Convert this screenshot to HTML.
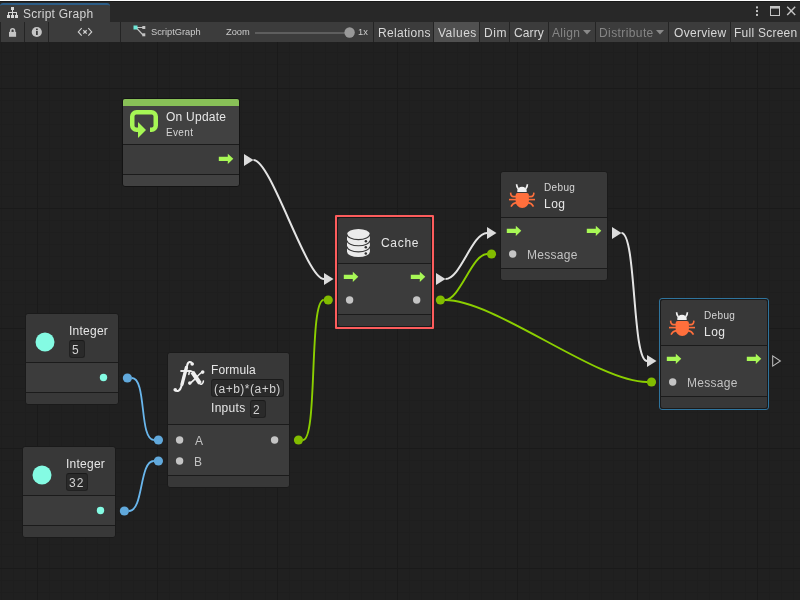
<!DOCTYPE html>
<html><head><meta charset="utf-8"><title>Script Graph</title>
<style>
html,body{margin:0;padding:0}
body{width:800px;height:600px;overflow:hidden;background:#202020;position:relative;font-family:"Liberation Sans",sans-serif;}
.t{position:absolute;white-space:nowrap;will-change:transform;}
.abs{position:absolute}
#grid{position:absolute;left:0;top:42px;width:800px;height:558px;background-color:#202020;
 background-image:
  linear-gradient(to right,#1a1a1a 1px,transparent 1px),
  linear-gradient(to bottom,#1a1a1a 1px,transparent 1px),
  linear-gradient(to right,#1e1e1e 1px,transparent 1px),
  linear-gradient(to bottom,#1e1e1e 1px,transparent 1px);
 background-size:120px 120px,120px 120px,12px 12px,12px 12px;
 background-position:37px 0,0 46px,1px 0,0 10px;}
#topbar{position:absolute;left:0;top:0;width:800px;height:22px;background:#282828}
#topline{position:absolute;left:0;top:0;width:800px;height:1px;background:#fdfdfd}
#topline2{position:absolute;left:0;top:1px;width:800px;height:1px;background:#191919}
#tab{position:absolute;left:0;top:3px;width:110px;height:19px;background:#3c3c3c;border-top:2px solid #2c5d87;box-sizing:border-box;border-radius:3px 3px 0 0}
#toolbar{position:absolute;left:0;top:22px;width:800px;height:20px;background:#3c3c3c}
.tsep{position:absolute;top:22px;width:1px;height:20px;background:#242424}
.node{position:absolute;box-sizing:border-box;border:1px solid #1a1a1a;border-radius:3px;background:#383838}
.node.ev{background:#414141;border-color:#131313}
.ports{position:absolute;left:0;right:0;background:#3c3c3c}
.sep{position:absolute;left:0;right:0;height:1px;background:#1b1b1b}
.a{position:absolute;overflow:visible}
.d{position:absolute;border-radius:50%}
.field{position:absolute;box-sizing:border-box;background:#2a2a2a;border:1px solid #212121;border-top-color:#1a1a1a;border-radius:3px;height:18px}
svg{display:block}
</style></head><body>

<div id="grid"></div>
<svg class="abs" style="left:0;top:0" width="800" height="600" viewBox="0 0 800 600">
<path d="M253.5,160.0 C271.1,160.0 306.4,279.0 324.0,279.0" fill="none" stroke="#e4e4e4" stroke-width="2.0"/>
<path d="M445.5,279.0 C460.5,279.0 472.0,233.0 487.0,233.0" fill="none" stroke="#e4e4e4" stroke-width="2.0"/>
<path d="M621.5,233.0 C636.5,233.0 632.0,361.0 647.0,361.0" fill="none" stroke="#e4e4e4" stroke-width="2.0"/>
<path d="M303.0,440.0 C318.0,440.0 308.7,300.0 323.7,300.0" fill="none" stroke="#8bcf00" stroke-width="1.9"/>
<path d="M444.9,300.0 C459.9,300.0 472.0,254.0 487.0,254.0" fill="none" stroke="#8bcf00" stroke-width="1.9"/>
<path d="M444.9,300.0 C495.4,300.0 596.5,382.0 647.0,382.0" fill="none" stroke="#8bcf00" stroke-width="1.9"/>
<path d="M131.9,378.0 C146.9,378.0 138.9,440.0 153.9,440.0" fill="none" stroke="#69b6ec" stroke-width="1.8"/>
<path d="M128.9,511.0 C143.9,511.0 138.9,461.0 153.9,461.0" fill="none" stroke="#69b6ec" stroke-width="1.8"/>
<path d="M244,154 L253.5,160 L244,166 Z" fill="#dcdcdc"/>
<path d="M324,273 L333.5,279 L324,285 Z" fill="#dcdcdc"/>
<path d="M436,273 L445.5,279 L436,285 Z" fill="#dcdcdc"/>
<path d="M487,227 L496.5,233 L487,239 Z" fill="#dcdcdc"/>
<path d="M612,227 L621.5,233 L612,239 Z" fill="#dcdcdc"/>
<path d="M647,355 L656.5,361 L647,367 Z" fill="#dcdcdc"/>
<path d="M772.7,355.9 L780.4,361 L772.7,366.1 Z" fill="none" stroke="#bdbdbd" stroke-width="1.05"/>
<circle cx="298.5" cy="440" r="4.6" fill="#82bc00"/>
<circle cx="328.2" cy="300" r="4.6" fill="#82bc00"/>
<circle cx="440.4" cy="300" r="4.6" fill="#82bc00"/>
<circle cx="491.5" cy="254" r="4.6" fill="#82bc00"/>
<circle cx="651.5" cy="382" r="4.6" fill="#82bc00"/>
<circle cx="127.4" cy="378" r="4.6" fill="#61a9dc"/>
<circle cx="158.4" cy="440" r="4.6" fill="#61a9dc"/>
<circle cx="124.4" cy="511" r="4.6" fill="#61a9dc"/>
<circle cx="158.4" cy="461" r="4.6" fill="#61a9dc"/>
</svg>
<div class="node ev" style="left:122px;top:98px;width:118px;height:89px"><div class="ports" style="top:46px;height:29px"></div><div class="sep" style="top:45px"></div><div class="sep" style="top:75px"></div><div class="abs" style="left:0;top:0;width:116px;height:7px;background:#88c057;border-radius:2px 2px 0 0"></div></div>
<svg class="abs" style="left:130px;top:110px" width="28" height="28" viewBox="0 0 28 28">
<path d="M20,22 H21.5 A6.5,6.5 0 0 0 28,15.5 V6.5 A6.5,6.5 0 0 0 21.5,0 H6.5 A6.5,6.5 0 0 0 0,6.5 V15.5 A6.5,6.5 0 0 0 6.5,22 H8.5 V17.5 H6.2 A1.7,1.7 0 0 1 4.5,15.8 V6.2 A1.7,1.7 0 0 1 6.2,4.5 H21.8 A1.7,1.7 0 0 1 23.5,6.2 V15.8 A1.7,1.7 0 0 1 21.8,17.5 H20 Z" fill="#a6f655"/>
<path d="M8,12 L16,20 L8,28 Z" fill="#a6f655"/></svg>
<span class="t" style="left:165.7px;top:108px;font-size:12px;line-height:18px;color:#e6e6e6;letter-spacing:0.25px;">On Update</span>
<span class="t" style="left:166px;top:125px;font-size:10px;line-height:15px;color:#d6d6d6;letter-spacing:0.35px;">Event</span>
<svg class="a" style="left:219px;top:154px" width="15" height="11" viewBox="0 0 15 11"><path d="M-0.2,2.8 H8.8 V-0.2 L14.3,4.85 L8.8,9.9 V6.9 H-0.2 Z" fill="#a8f856"/></svg>
<div class="abs" style="left:335px;top:215px;width:99px;height:114px;box-sizing:border-box;border:2px solid #fd5c5c;border-radius:1px"></div>
<div class="node " style="left:337px;top:217px;width:95px;height:110px"><div class="ports" style="top:46px;height:50px"></div><div class="sep" style="top:45px"></div><div class="sep" style="top:96px"></div></div>
<svg class="abs" style="left:347px;top:229px" width="24" height="28" viewBox="0 0 24 28">
<path d="M0,5.3 A11.45,5.3 0 0 1 22.9,5.3 V22.7 A11.45,5.3 0 0 1 0,22.7 Z" fill="#ebebeb"/>
<g fill="none" stroke="#383838" stroke-width="1.15">
<path d="M0,5.3 A11.45,5.3 0 0 0 22.9,5.3"/><path d="M0,11.4 A11.45,5.3 0 0 0 22.9,11.4"/><path d="M0,17.5 A11.45,5.3 0 0 0 22.9,17.5"/></g>
<g fill="#2e2e2e"><circle cx="18.9" cy="12.2" r="1.25"/><circle cx="18.8" cy="18.3" r="1.25"/><circle cx="18.8" cy="24.4" r="1.25"/></g></svg>
<span class="t" style="left:381.2px;top:234px;font-size:12px;line-height:18px;color:#e6e6e6;letter-spacing:0.7px;">Cache</span>
<svg class="a" style="left:344px;top:272px" width="15" height="11" viewBox="0 0 15 11"><path d="M-0.2,2.8 H8.8 V-0.2 L14.3,4.85 L8.8,9.9 V6.9 H-0.2 Z" fill="#a8f856"/></svg>
<svg class="a" style="left:411px;top:272px" width="15" height="11" viewBox="0 0 15 11"><path d="M-0.2,2.8 H8.8 V-0.2 L14.3,4.85 L8.8,9.9 V6.9 H-0.2 Z" fill="#a8f856"/></svg>
<svg class="a" style="left:344px;top:295px" width="11" height="11"><circle cx="5.60" cy="5.00" r="3.7" fill="#c4c4c4"/></svg>
<svg class="a" style="left:411px;top:295px" width="11" height="11"><circle cx="5.70" cy="5.00" r="3.7" fill="#c4c4c4"/></svg>
<div class="node " style="left:500px;top:171px;width:108px;height:110px"><div class="ports" style="top:46px;height:50px"></div><div class="sep" style="top:45px"></div><div class="sep" style="top:96px"></div></div>
<svg class="abs" style="left:509px;top:184px" width="26" height="24" viewBox="0 0 26 24">
<path d="M8.3,8 V6.8 A4.7,4 0 0 1 17.7,6.8 V8 Z" fill="#f0f0f0"/>
<path d="M9.3,5 Q7.6,3 7.6,0.3 M16.7,5 Q18.4,3 18.4,0.3" fill="none" stroke="#f0f0f0" stroke-width="1.7"/>
<path d="M6.6,11 Q6.6,9 8.6,9 H17.9 Q19.9,9 19.9,11 V17 A6.65,7 0 0 1 6.6,17 Z" fill="#ff6f3c"/>
<g fill="none" stroke="#ff6f3c" stroke-width="1.6">
<path d="M0,15.6 H26"/>
<path d="M7,12.6 H4.5 Q1.8,12.6 1.6,8.6 M19.5,12.6 H22 Q24.7,12.6 24.9,8.6"/>
<path d="M7.5,18.6 Q3.8,19 2,22.6 M19,18.6 Q22.7,19 24.5,22.6"/></g></svg>
<span class="t" style="left:543.5px;top:180px;font-size:10px;line-height:15px;color:#d6d6d6;letter-spacing:0.35px;">Debug</span>
<span class="t" style="left:544.4px;top:195px;font-size:12px;line-height:18px;color:#e6e6e6;letter-spacing:0.5px;">Log</span>
<svg class="a" style="left:507px;top:226px" width="15" height="11" viewBox="0 0 15 11"><path d="M-0.2,2.8 H8.8 V-0.2 L14.3,4.85 L8.8,9.9 V6.9 H-0.2 Z" fill="#a8f856"/></svg>
<svg class="a" style="left:587px;top:226px" width="15" height="11" viewBox="0 0 15 11"><path d="M-0.2,2.8 H8.8 V-0.2 L14.3,4.85 L8.8,9.9 V6.9 H-0.2 Z" fill="#a8f856"/></svg>
<svg class="a" style="left:507px;top:249px" width="11" height="11"><circle cx="5.70" cy="5.00" r="3.7" fill="#c4c4c4"/></svg>
<span class="t" style="left:526.7px;top:246px;font-size:12px;line-height:18px;color:#c2c2c2;letter-spacing:0.3px;">Message</span>
<div class="abs" style="left:659px;top:298px;width:110px;height:112px;box-sizing:border-box;border:1px solid #2f749d;border-radius:3px"></div>
<div class="node " style="left:660px;top:299px;width:108px;height:110px"><div class="ports" style="top:46px;height:50px"></div><div class="sep" style="top:45px"></div><div class="sep" style="top:96px"></div></div>
<svg class="abs" style="left:669px;top:312px" width="26" height="24" viewBox="0 0 26 24">
<path d="M8.3,8 V6.8 A4.7,4 0 0 1 17.7,6.8 V8 Z" fill="#f0f0f0"/>
<path d="M9.3,5 Q7.6,3 7.6,0.3 M16.7,5 Q18.4,3 18.4,0.3" fill="none" stroke="#f0f0f0" stroke-width="1.7"/>
<path d="M6.6,11 Q6.6,9 8.6,9 H17.9 Q19.9,9 19.9,11 V17 A6.65,7 0 0 1 6.6,17 Z" fill="#ff6f3c"/>
<g fill="none" stroke="#ff6f3c" stroke-width="1.6">
<path d="M0,15.6 H26"/>
<path d="M7,12.6 H4.5 Q1.8,12.6 1.6,8.6 M19.5,12.6 H22 Q24.7,12.6 24.9,8.6"/>
<path d="M7.5,18.6 Q3.8,19 2,22.6 M19,18.6 Q22.7,19 24.5,22.6"/></g></svg>
<span class="t" style="left:703.5px;top:308px;font-size:10px;line-height:15px;color:#d6d6d6;letter-spacing:0.35px;">Debug</span>
<span class="t" style="left:704.4px;top:323px;font-size:12px;line-height:18px;color:#e6e6e6;letter-spacing:0.5px;">Log</span>
<svg class="a" style="left:667px;top:354px" width="15" height="11" viewBox="0 0 15 11"><path d="M-0.2,2.8 H8.8 V-0.2 L14.3,4.85 L8.8,9.9 V6.9 H-0.2 Z" fill="#a8f856"/></svg>
<svg class="a" style="left:747px;top:354px" width="15" height="11" viewBox="0 0 15 11"><path d="M-0.2,2.8 H8.8 V-0.2 L14.3,4.85 L8.8,9.9 V6.9 H-0.2 Z" fill="#a8f856"/></svg>
<svg class="a" style="left:667px;top:377px" width="11" height="11"><circle cx="5.70" cy="5.00" r="3.7" fill="#c4c4c4"/></svg>
<span class="t" style="left:686.7px;top:374px;font-size:12px;line-height:18px;color:#c2c2c2;letter-spacing:0.3px;">Message</span>
<div class="node " style="left:25px;top:313px;width:94px;height:92px"><div class="ports" style="top:49px;height:29px"></div><div class="sep" style="top:48px"></div><div class="sep" style="top:78px"></div></div>
<svg class="a" style="left:34px;top:331px" width="23" height="23"><circle cx="11.00" cy="11.00" r="9.5" fill="#84fbe3"/></svg>
<span class="t" style="left:68.6px;top:322px;font-size:12px;line-height:18px;color:#e6e6e6;letter-spacing:0.25px;">Integer</span>
<div class="field" style="left:69px;top:340px;width:16px"></div>
<span class="t" style="left:71.9px;top:341px;font-size:12px;line-height:18px;color:#d2d2d2;letter-spacing:1.1px;">5</span>
<svg class="a" style="left:98px;top:372px" width="11" height="11"><circle cx="5.50" cy="5.50" r="3.7" fill="#84fbe3"/></svg>
<div class="node " style="left:22px;top:446px;width:94px;height:92px"><div class="ports" style="top:49px;height:29px"></div><div class="sep" style="top:48px"></div><div class="sep" style="top:78px"></div></div>
<svg class="a" style="left:31px;top:464px" width="23" height="23"><circle cx="11.00" cy="11.00" r="9.5" fill="#84fbe3"/></svg>
<span class="t" style="left:65.6px;top:455px;font-size:12px;line-height:18px;color:#e6e6e6;letter-spacing:0.25px;">Integer</span>
<div class="field" style="left:66px;top:473px;width:22px"></div>
<span class="t" style="left:68.9px;top:474px;font-size:12px;line-height:18px;color:#d2d2d2;letter-spacing:1.1px;">32</span>
<svg class="a" style="left:95px;top:505px" width="11" height="11"><circle cx="5.50" cy="5.50" r="3.7" fill="#84fbe3"/></svg>
<div class="node " style="left:167px;top:352px;width:123px;height:136px"><div class="ports" style="top:72px;height:50px"></div><div class="sep" style="top:71px"></div><div class="sep" style="top:122px"></div></div>
<svg class="abs" style="left:168px;top:356px" width="44" height="42" viewBox="0 0 44 42">
<g fill="none" stroke="#f0f0f0" stroke-linecap="round" stroke-linejoin="round">
<path d="M24.2,7.8 C23,5 20,5.4 19.2,9.2 L13.3,30.5 C12.3,34.4 9.5,36.2 7,34.2" stroke-width="2.1"/>
<path d="M18.4,11.5 L14,28.4" stroke-width="3.3"/>
<path d="M12.4,15 H22.8" stroke-width="1.9" stroke-linecap="butt"/>
<path d="M24.3,16 L32,27.4" stroke-width="4.2" stroke-linecap="butt"/>
<path d="M20.8,18.4 C21,15 23.4,14.2 25,16.4 M31.2,26.8 C32.8,29.4 35.2,28.2 35.4,25" stroke-width="1.6"/>
<path d="M34.9,15.8 C31.5,16.6 25.4,26.2 21.5,27.4" stroke-width="1.6"/>
</g>
<g fill="#f0f0f0"><circle cx="24.2" cy="8" r="1.8"/><circle cx="7.2" cy="33.7" r="1.8"/><circle cx="34.7" cy="16.1" r="1.8"/><circle cx="21.8" cy="27.1" r="1.8"/></g>
</svg>
<span class="t" style="left:210.6px;top:361px;font-size:12px;line-height:18px;color:#e6e6e6;letter-spacing:0.1px;">Formula</span>
<div class="field" style="left:211px;top:379px;width:73px"></div>
<span class="t" style="left:214px;top:380px;font-size:12px;line-height:18px;color:#d2d2d2;letter-spacing:0.5px;">(a+b)*(a+b)</span>
<span class="t" style="left:210.5px;top:399px;font-size:12px;line-height:18px;color:#e6e6e6;letter-spacing:0.3px;">Inputs</span>
<div class="field" style="left:250px;top:400px;width:16px"></div>
<span class="t" style="left:253px;top:401px;font-size:12px;line-height:18px;color:#d2d2d2;">2</span>
<svg class="a" style="left:174px;top:435px" width="11" height="11"><circle cx="5.60" cy="5.00" r="3.7" fill="#c4c4c4"/></svg>
<svg class="a" style="left:174px;top:456px" width="11" height="11"><circle cx="5.60" cy="5.00" r="3.7" fill="#c4c4c4"/></svg>
<svg class="a" style="left:269px;top:435px" width="11" height="11"><circle cx="5.60" cy="5.00" r="3.7" fill="#c4c4c4"/></svg>
<span class="t" style="left:194.5px;top:432px;font-size:12px;line-height:18px;color:#c2c2c2;">A</span>
<span class="t" style="left:194px;top:453px;font-size:12px;line-height:18px;color:#c2c2c2;">B</span>
<div id="topbar"></div><div id="topline"></div><div id="topline2"></div><div id="tab"></div><div id="toolbar"></div>
<svg class="abs" style="left:7px;top:7px" width="12" height="12" viewBox="0 0 12 12" shape-rendering="crispEdges">
<g fill="#d6d6d6"><rect x="4" y="0" width="3" height="3"/><rect x="5" y="3" width="1" height="6"/><rect x="1" y="5" width="9" height="1"/><rect x="1" y="5" width="1" height="3"/><rect x="9" y="5" width="1" height="3"/>
<rect x="0" y="8" width="3" height="3"/><rect x="4" y="8" width="3" height="3"/><rect x="8" y="8" width="3" height="3"/></g></svg>
<span class="t" style="left:23.3px;top:5px;font-size:12px;line-height:18px;color:#d4d4d4;letter-spacing:0.25px;">Script Graph</span>
<svg class="abs" style="left:750px;top:2px" width="50" height="20" viewBox="0 0 50 20">
<g fill="#c4c4c4"><rect x="6" y="4.4" width="2" height="2"/><rect x="6" y="8.1" width="2" height="2"/><rect x="6" y="11.9" width="2" height="2"/></g>
<rect x="20.5" y="4.5" width="9" height="9" fill="none" stroke="#c4c4c4" stroke-width="1"/><rect x="20" y="4" width="10" height="2.6" fill="#c4c4c4"/>
<path d="M37.2,4.8 L45.2,13 M45.2,4.8 L37.2,13" stroke="#c4c4c4" stroke-width="1.4" fill="none"/></svg>
<div class="tsep" style="left:0px"></div>
<div class="tsep" style="left:24px"></div>
<div class="tsep" style="left:48px"></div>
<div class="tsep" style="left:120px"></div>
<div class="tsep" style="left:373px"></div>
<div class="tsep" style="left:433px"></div>
<div class="tsep" style="left:479px"></div>
<div class="tsep" style="left:509px"></div>
<div class="tsep" style="left:548px"></div>
<div class="tsep" style="left:595px"></div>
<div class="tsep" style="left:668px"></div>
<div class="tsep" style="left:730px"></div>
<div class="abs" style="left:434px;top:22px;width:45px;height:20px;background:#505050"></div>
<svg class="abs" style="left:8px;top:26px" width="10" height="12" viewBox="0 0 10 12">
<rect x="1" y="5.9" width="7.1" height="4.9" fill="#c4c4c4"/>
<path d="M2.7,6 V4.7 A1.9,2 0 0 1 6.5,4.7 V6" fill="none" stroke="#c4c4c4" stroke-width="1.6"/></svg>
<svg class="abs" style="left:31px;top:26px" width="12" height="12" viewBox="0 0 12 12">
<circle cx="5.8" cy="6" r="5.1" fill="#c4c4c4"/><rect x="5" y="5" width="1.8" height="4" fill="#3c3c3c"/><rect x="5" y="2.6" width="1.8" height="1.6" fill="#3c3c3c"/></svg>
<svg class="abs" style="left:77px;top:26px" width="16" height="12" viewBox="0 0 16 12">
<g fill="none" stroke="#cfcfcf" stroke-width="1.15"><path d="M4.7,2.2 L1.3,5.95 L4.7,9.7"/><path d="M11.3,2.2 L14.7,5.95 L11.3,9.7"/><path d="M6.3,4.25 L9.7,7.65 M9.7,4.25 L6.3,7.65" stroke-width="1.3"/></g></svg>
<svg class="abs" style="left:133px;top:25px" width="13" height="12" viewBox="0 0 13 12">
<path d="M3,2.5 H10 M3,2.5 L10,10" stroke="#c4c4c4" stroke-width="1.1" fill="none"/>
<rect x="0.5" y="0.5" width="4" height="4" fill="#6fe8d8"/><rect x="9.3" y="1" width="3" height="3" fill="#c4c4c4"/><rect x="9.3" y="8.3" width="3" height="3" fill="#c4c4c4"/></svg>
<span class="t" style="left:151px;top:25px;font-size:9.3px;line-height:14px;color:#cccccc;">ScriptGraph</span>
<span class="t" style="left:226px;top:25px;font-size:9.3px;line-height:14px;color:#cccccc;">Zoom</span>
<div class="abs" style="left:255px;top:32px;width:95px;height:1.5px;background:#5e5e5e"></div>
<svg class="a" style="left:342px;top:25px" width="14" height="14"><circle cx="7.60" cy="7.50" r="5.2" fill="#999999"/></svg>
<span class="t" style="left:358.4px;top:25px;font-size:9.3px;line-height:14px;color:#cccccc;">1x</span>
<span class="t" style="left:377.7px;top:24px;font-size:12px;line-height:18px;color:#d8d8d8;letter-spacing:0.3px;">Relations</span>
<span class="t" style="left:438px;top:24px;font-size:12px;line-height:18px;color:#d8d8d8;letter-spacing:0.5px;">Values</span>
<span class="t" style="left:484px;top:24px;font-size:12px;line-height:18px;color:#d8d8d8;letter-spacing:0.6px;">Dim</span>
<span class="t" style="left:513.6px;top:24px;font-size:12px;line-height:18px;color:#d8d8d8;letter-spacing:0.1px;">Carry</span>
<span class="t" style="left:552.4px;top:24px;font-size:12px;line-height:18px;color:#858585;letter-spacing:0.3px;">Align</span>
<span class="t" style="left:599.4px;top:24px;font-size:12px;line-height:18px;color:#858585;letter-spacing:0.4px;">Distribute</span>
<span class="t" style="left:673.6px;top:24px;font-size:12px;line-height:18px;color:#d8d8d8;letter-spacing:0.3px;">Overview</span>
<span class="t" style="left:734.4px;top:24px;font-size:12px;line-height:18px;color:#d8d8d8;letter-spacing:0.25px;">Full Screen</span>
<svg class="abs" style="left:583px;top:30px" width="9" height="6" viewBox="0 0 9 6"><path d="M0,0 H8 L4,4.6 Z" fill="#8a8a8a"/></svg>
<svg class="abs" style="left:656px;top:30px" width="9" height="6" viewBox="0 0 9 6"><path d="M0,0 H8 L4,4.6 Z" fill="#8a8a8a"/></svg>
</body></html>
